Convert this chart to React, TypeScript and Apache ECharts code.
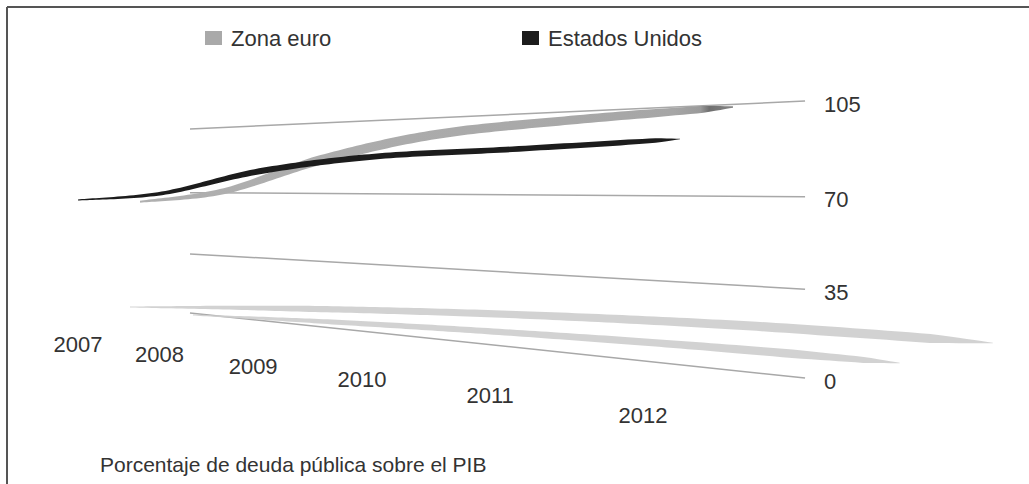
import React, { useEffect, useRef } from 'react';
import * as echarts from 'echarts';

// ---------- data ----------
const years = [2007, 2008, 2009, 2010, 2011, 2012];
const yearLabels = ['2007', '2008', '2009', '2010', '2011', '2012'];
const zonaEuro = [64.5, 71, 87, 97.5, 101.5, 104];
const estadosUnidos = [65, 69.5, 81.5, 88, 90, 92.5];
const yTicks = [0, 35, 70, 105];
const yTickLabels = ['0', '35', '70', '105'];
const seriesNames = ['Zona euro', 'Estados Unidos'];
const footnote = 'Porcentaje de deuda pública sobre el PIB';

// ---------- perspective geometry ----------
const X_MIN = 2007;
const X_MAX = 2012;
const Y_MAX = 105;
const FONT = '"Liberation Sans", Arial, Helvetica, sans-serif';
const TXT = '#333333';

function screenX(s: number) {
  return (190 + 344.8 * s) / (1 - 0.3357 * s);
}
function floorY(x: number) {
  return 313 + 0.1057 * (x - 190);
}
function topY(x: number) {
  return 129 - 0.0455 * (x - 190);
}
function warpR(r: number) {
  const c = -0.055;
  return (r * (1 + c)) / (1 + c * r);
}
function project(s: number, r: number): number[] {
  const x = screenX(s);
  const y0 = floorY(x);
  const y1 = topY(x);
  return [x, y0 + (y1 - y0) * warpR(r)];
}
function norm(api: any, xv: number, yv: number) {
  const p = api.coord([xv, yv]);
  const a = api.coord([X_MIN, 0]);
  const b = api.coord([X_MAX, Y_MAX]);
  return [(p[0] - a[0]) / (b[0] - a[0]), (p[1] - a[1]) / (b[1] - a[1])];
}

function spline(pts: number[][], n = 20) {
  const out: number[][] = [];
  for (let i = 0; i < pts.length - 1; i++) {
    const p0 = pts[Math.max(0, i - 1)];
    const p1 = pts[i];
    const p2 = pts[i + 1];
    const p3 = pts[Math.min(pts.length - 1, i + 2)];
    for (let j = 0; j < n; j++) {
      const t = j / n;
      const t2 = t * t;
      const t3 = t2 * t;
      const f = (k: number) =>
        0.5 *
        (2 * p1[k] +
          (-p0[k] + p2[k]) * t +
          (2 * p0[k] - 5 * p1[k] + 4 * p2[k] - p3[k]) * t2 +
          (-p0[k] + 3 * p1[k] - 3 * p2[k] + p3[k]) * t3);
      out.push([f(0), f(1)]);
    }
  }
  out.push(pts[pts.length - 1]);
  return out;
}

function prof(stops: number[][], u: number) {
  for (let i = 0; i < stops.length - 1; i++) {
    if (u <= stops[i + 1][0]) {
      const a = stops[i];
      const b = stops[i + 1];
      const t = (u - a[0]) / (b[0] - a[0] || 1);
      return a[1] + (b[1] - a[1]) * t;
    }
  }
  return stops[stops.length - 1][1];
}

function ribbon(path: number[][], stops: number[][]) {
  const L = [0];
  for (let i = 1; i < path.length; i++) {
    L.push(L[i - 1] + Math.hypot(path[i][0] - path[i - 1][0], path[i][1] - path[i - 1][1]));
  }
  const total = L[L.length - 1] || 1;
  const up: number[][] = [];
  const dn: number[][] = [];
  for (let i = 0; i < path.length; i++) {
    const a = path[Math.max(0, i - 1)];
    const b = path[Math.min(path.length - 1, i + 1)];
    let tx = b[0] - a[0];
    let ty = b[1] - a[1];
    const len = Math.hypot(tx, ty) || 1;
    tx /= len;
    ty /= len;
    const w = prof(stops, L[i] / total) / 2;
    up.push([path[i][0] - ty * w, path[i][1] + tx * w]);
    dn.push([path[i][0] + ty * w, path[i][1] - tx * w]);
  }
  return up.concat(dn.reverse());
}

type Cfg = {
  name: string;
  values: number[];
  sRange: number[];
  color: string;
  widths: number[][];
  z: number;
  gradient?: boolean;
};

function seriesPoints(api: any, cfg: Cfg) {
  return years.map((y, i) => {
    const [tf, r] = norm(api, y, cfg.values[i]);
    return project(cfg.sRange[0] + tf * (cfg.sRange[1] - cfg.sRange[0]), r);
  });
}

const euroCfg: Cfg = {
  name: seriesNames[0],
  values: zonaEuro,
  sRange: [-0.1276, 0.919],
  color: '#a9a9a9',
  widths: [[0, 2], [0.1, 5], [0.3, 9.5], [0.85, 8.5], [0.95, 7], [1, 1.5]],
  z: 4,
  gradient: true,
};
const usCfg: Cfg = {
  name: seriesNames[1],
  values: estadosUnidos,
  sRange: [-0.302, 0.855],
  color: '#1c1c1c',
  widths: [[0, 1.2], [0.13, 3.5], [0.3, 6], [0.9, 5.5], [0.96, 4.5], [1, 0.5]],
  z: 5,
};

// shadow transforms (floor projection of each ribbon)
const shadowCfgs = [
  { cfg: euroCfg, m: 1.455, c: -73.7, a: 307.48, b: -0.00967, q: 4.574e-5, widths: [[0, 1], [0.2, 6], [0.8, 9.5], [0.93, 9], [1, 0.5]] },
  { cfg: usCfg, m: 1.174, c: 101.4, a: 307.3, b: 0.03374, q: 3.126e-5, widths: [[0, 1], [0.2, 5], [0.85, 8.5], [0.95, 6], [1, 0.5]] },
];

function ribbonSeries(cfg: Cfg) {
  return {
    type: 'custom',
    name: cfg.name,
    z: cfg.z,
    silent: true,
    itemStyle: { color: cfg.color },
    data: years.map((y, i) => [y, cfg.values[i]]),
    renderItem: (params: any, api: any) => {
      if (params.dataIndex !== 0) return null;
      const pts = seriesPoints(api, cfg);
      const path = spline(pts, 24);
      const poly = ribbon(path, cfg.widths);
      let fill: any = cfg.color;
      if (cfg.gradient) {
        const x0 = pts[0][0];
        const x1 = pts[pts.length - 1][0];
        fill = new echarts.graphic.LinearGradient(
          x0, 0, x1, 0,
          [
            { offset: 0, color: '#b0b0b0' },
            { offset: 0.9, color: '#a6a6a6' },
            { offset: 0.945, color: '#9a9a9a' },
            { offset: 0.96, color: '#6f6f6f' },
            { offset: 1, color: '#858585' },
          ],
          true
        );
      }
      return { type: 'polygon', shape: { points: poly }, style: { fill, stroke: null } };
    },
  };
}

function shadowSeries(sc: any, idx: number) {
  return {
    type: 'custom',
    name: 'shadow' + idx,
    z: 2,
    silent: true,
    data: years.map((y, i) => [y, sc.cfg.values[i]]),
    renderItem: (params: any, api: any) => {
      if (params.dataIndex !== 0) return null;
      const pts = seriesPoints(api, sc.cfg).map((p) => {
        const x = sc.m * p[0] + sc.c;
        return [x, sc.a + sc.b * x + sc.q * x * x];
      });
      const path = spline(pts, 24);
      const poly = ribbon(path, sc.widths);
      return { type: 'polygon', shape: { points: poly }, style: { fill: '#cdcdcd', stroke: null, opacity: 0.9 } };
    },
  };
}

const gridSeries = {
  type: 'custom',
  name: 'grid',
  z: 1,
  silent: true,
  data: yTicks.map((v, i) => [X_MIN, v, i]),
  renderItem: (params: any, api: any) => {
    const v = api.value(1);
    const idx = api.value(2);
    const [, r] = norm(api, X_MIN, v);
    const a = project(0, r);
    const b = project(1, r);
    return {
      type: 'group',
      children: [
        { type: 'line', shape: { x1: a[0], y1: a[1], x2: b[0], y2: b[1] }, style: { stroke: '#a8a8a8', lineWidth: 1.5 } },
        {
          type: 'text',
          x: b[0] + 19,
          y: b[1] + 3,
          style: { text: yTickLabels[idx], fill: TXT, font: `22px ${FONT}`, textAlign: 'left', textVerticalAlign: 'middle' },
        },
      ],
    };
  },
};

const yearSeries = {
  type: 'custom',
  name: 'years',
  z: 6,
  silent: true,
  data: years.map((y, i) => [y, 0, i]),
  renderItem: (params: any, api: any) => {
    const idx = api.value(2);
    const [tf] = norm(api, api.value(0), 0);
    const u = tf * 5;
    const x = (78 + 71.05 * u) / (1 - 0.06524 * u);
    const y = 344 + 0.1257 * (x - 78);
    return {
      type: 'text',
      x,
      y,
      style: { text: yearLabels[idx], fill: TXT, font: `22px ${FONT}`, textAlign: 'center', textVerticalAlign: 'middle' },
    };
  },
};

const legendBase = {
  top: 27,
  padding: 0,
  icon: 'rect',
  itemWidth: 17,
  itemHeight: 14,
  selectedMode: false,
  textStyle: { fontSize: 22, color: TXT, fontFamily: FONT, padding: [0, 0, 0, 4] },
};

const option: any = {
  animation: false,
  backgroundColor: '#ffffff',
  color: [euroCfg.color, usCfg.color],
  grid: { left: 0, right: 0, top: 0, bottom: 0, show: false },
  xAxis: { type: 'value', min: X_MIN, max: X_MAX, show: false },
  yAxis: { type: 'value', min: 0, max: Y_MAX, interval: 35, show: false },
  title: {
    text: footnote,
    left: 100,
    top: 454,
    padding: 0,
    textStyle: { fontSize: 21, fontWeight: 'normal', color: TXT, fontFamily: FONT },
  },
  legend: [
    { ...legendBase, data: [seriesNames[0]], left: 205 },
    { ...legendBase, data: [seriesNames[1]], left: 522 },
  ],
  graphic: [
    { type: 'line', shape: { x1: 7, y1: 7, x2: 1029, y2: 7 }, style: { stroke: '#555555', lineWidth: 2 } },
    { type: 'line', shape: { x1: 7, y1: 7, x2: 7, y2: 484 }, style: { stroke: '#555555', lineWidth: 2 } },
  ],
  series: [
    gridSeries,
    shadowSeries(shadowCfgs[0], 0),
    shadowSeries(shadowCfgs[1], 1),
    ribbonSeries(euroCfg),
    ribbonSeries(usCfg),
    yearSeries,
  ],
};

export default function App() {
  const ref = useRef<HTMLDivElement>(null);
  useEffect(() => {
    if (!ref.current) return;
    const chart = echarts.init(ref.current, null, { renderer: 'svg' });
    chart.setOption(option);
    return () => chart.dispose();
  }, []);
  return (
    <div
      ref={ref}
      style={{ position: 'absolute', left: 0, top: 0, width: 1029, height: 484, background: '#ffffff' }}
    />
  );
}
